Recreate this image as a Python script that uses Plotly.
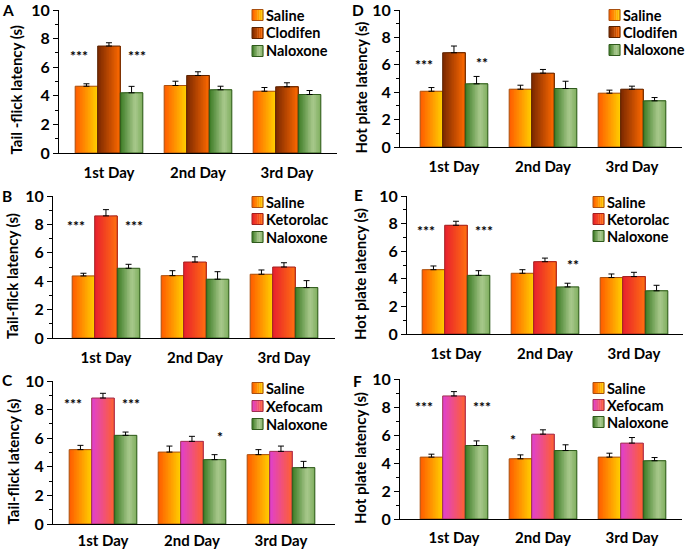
import plotly.graph_objects as go

# ---------------- data ----------------
days = ["1st Day", "2nd Day", "3rd Day"]
day_index = [0, 1, 2]

series_names_A = ["Saline", "Clodifen", "Naloxone"]
series_names_B = ["Saline", "Ketorolac", "Naloxone"]
series_names_C = ["Saline", "Xefocam", "Naloxone"]

# Tail-flick, Clodifen (A)
a_saline = [4.67, 4.72, 4.32]
a_saline_err = [0.17, 0.30, 0.26]
a_drug = [7.48, 5.42, 4.63]
a_drug_err = [0.23, 0.26, 0.28]
a_naloxone = [4.21, 4.42, 4.09]
a_naloxone_err = [0.45, 0.25, 0.28]

# Hot plate, Clodifen (D)
d_saline = [4.07, 4.22, 3.93]
d_saline_err = [0.27, 0.29, 0.22]
d_drug = [6.88, 5.39, 4.22]
d_drug_err = [0.49, 0.27, 0.22]
d_naloxone = [4.61, 4.27, 3.37]
d_naloxone_err = [0.54, 0.53, 0.24]

# Tail-flick, Ketorolac (B)
b_saline = [4.37, 4.39, 4.49]
b_saline_err = [0.19, 0.35, 0.30]
b_drug = [8.60, 5.35, 5.00]
b_drug_err = [0.44, 0.37, 0.30]
b_naloxone = [4.91, 4.14, 3.55]
b_naloxone_err = [0.28, 0.53, 0.49]

# Hot plate, Ketorolac (E)
e_saline = [4.66, 4.40, 4.09]
e_saline_err = [0.27, 0.26, 0.26]
e_drug = [7.88, 5.24, 4.16]
e_drug_err = [0.29, 0.26, 0.31]
e_naloxone = [4.25, 3.41, 3.13]
e_naloxone_err = [0.34, 0.27, 0.40]

# Tail-flick, Xefocam (C)
c_saline = [5.20, 5.03, 4.85]
c_saline_err = [0.30, 0.42, 0.35]
c_drug = [8.81, 5.78, 5.08]
c_drug_err = [0.33, 0.35, 0.37]
c_naloxone = [6.20, 4.50, 3.94]
c_naloxone_err = [0.23, 0.35, 0.44]

# Hot plate, Xefocam (F)
f_saline = [4.42, 4.30, 4.42]
f_saline_err = [0.21, 0.28, 0.28]
f_drug = [8.79, 6.06, 5.42]
f_drug_err = [0.31, 0.31, 0.40]
f_naloxone = [5.25, 4.89, 4.16]
f_naloxone_err = [0.33, 0.41, 0.23]

# significance marks: (text, day index, series index, height)
a_marks = [("***", 0, 0, 7.08), ("***", 0, 2, 7.08)]
d_marks = [("***", 0, 0, 6.34), ("**", 0, 2, 6.46)]
b_marks = [("***", 0, 0, 8.18), ("***", 0, 2, 8.18)]
e_marks = [("***", 0, 0, 7.76), ("***", 0, 2, 7.76), ("**", 1, 2, 5.31)]
c_marks = [("***", 0, 0, 8.70), ("***", 0, 2, 8.70), ("*", 1, 2, 6.43)]
f_marks = [("***", 0, 0, 8.34), ("***", 0, 2, 8.34), ("*", 1, 0, 5.96)]

tail_title_A = "Tail -flick latency (s)"
tail_title = "Tail-flick latency (s)"
hot_title = "Hot plate latency (s)"

# ---------------- style ----------------
W, H = 685, 549
FONT = "Lato"
N_SLICES = 14
BW = 0.253
OFFSETS = [-0.38, -0.127, 0.127]
MARK_SHIFT = [-0.08, 0.0, 0.06]

GRAD = {
    "Saline": [(0, "#FF5A00"), (1, "#FFD000")],
    "Clodifen": [(0, "#7A2800"), (1, "#FF6A00")],
    "Ketorolac": [(0, "#E8202E"), (1, "#FF7010")],
    "Xefocam": [(0, "#E040D0"), (1, "#FF6030")],
    "Naloxone": [(0, "#3B7A23"), (0.65, "#A9C98D"), (1, "#7FAE5E")],
}
EDGE = {
    "Saline": "#A85010",
    "Clodifen": "#5A2200",
    "Ketorolac": "#A02020",
    "Xefocam": "#A03050",
    "Naloxone": "#2F5A1C",
}


def hex2rgb(h):
    h = h.lstrip("#")
    return tuple(int(h[i:i + 2], 16) for i in (0, 2, 4))


def grad_color(stops, t):
    for (t0, c0), (t1, c1) in zip(stops[:-1], stops[1:]):
        if t <= t1:
            f = (t - t0) / (t1 - t0) if t1 > t0 else 0
            a, b = hex2rgb(c0), hex2rgb(c1)
            r = [round(a[k] + (b[k] - a[k]) * f) for k in range(3)]
            return "rgb(%d,%d,%d)" % tuple(r)
    return "rgb(%d,%d,%d)" % hex2rgb(stops[-1][1])


# panel pixel geometry (letter_xy = centre x, top y of the panel letter)
panels = [
    dict(letter="A", title=tail_title_A, names=series_names_A,
         vals=[a_saline, a_drug, a_naloxone], errs=[a_saline_err, a_drug_err, a_naloxone_err], marks=a_marks,
         left=59, right=337, c0=109, top=10, bottom=153, xtl=6,
         sq_x=252, rows=(15, 33, 51), letter_xy=(8, 0), title_x=15),
    dict(letter="D", title=hot_title, names=series_names_A,
         vals=[d_saline, d_drug, d_naloxone], errs=[d_saline_err, d_drug_err, d_naloxone_err], marks=d_marks,
         left=400, right=682, c0=454, top=10, bottom=147, xtl=6,
         sq_x=609, rows=(15, 32, 50), letter_xy=(358, 0), title_x=360),
    dict(letter="B", title=tail_title, names=series_names_B,
         vals=[b_saline, b_drug, b_naloxone], errs=[b_saline_err, b_drug_err, b_naloxone_err], marks=b_marks,
         left=53, right=335, c0=106, top=196, bottom=338, xtl=6,
         sq_x=252, rows=(202, 219, 237), letter_xy=(7, 186), title_x=12),
    dict(letter="E", title=hot_title, names=series_names_B,
         vals=[e_saline, e_drug, e_naloxone], errs=[e_saline_err, e_drug_err, e_naloxone_err], marks=e_marks,
         left=407, right=683, c0=456, top=196, bottom=334, xtl=6,
         sq_x=593, rows=(202, 219, 236), letter_xy=(358, 185), title_x=360),
    dict(letter="C", title=tail_title, names=series_names_C,
         vals=[c_saline, c_drug, c_naloxone], errs=[c_saline_err, c_drug_err, c_naloxone_err], marks=c_marks,
         left=53, right=335, c0=103, top=381, bottom=524, xtl=3,
         sq_x=252, rows=(388, 406, 424), letter_xy=(7, 370), title_x=12),
    dict(letter="F", title=hot_title, names=series_names_C,
         vals=[f_saline, f_drug, f_naloxone], errs=[f_saline_err, f_drug_err, f_naloxone_err], marks=f_marks,
         left=400, right=682, c0=454, top=379, bottom=519, xtl=5,
         sq_x=593, rows=(388, 405, 422), letter_xy=(357, 371), title_x=360),
]
SPACING = 89.0
SQ = 11  # legend swatch size, px


def pxx(x):
    return x / W


def pxy(y):
    return 1 - y / H


fig = go.Figure()
layout = dict(
    template="none",
    width=W, height=H, margin=dict(l=0, r=0, t=0, b=0, autoexpand=False),
    paper_bgcolor="white", plot_bgcolor="white",
    barmode="overlay", showlegend=False,
    font=dict(family=FONT, color="black"),
)
annotations = []
shapes = []

for i, p in enumerate(panels, start=1):
    xa = "x" if i == 1 else "x%d" % i
    ya = "y" if i == 1 else "y%d" % i
    xr = [(p["left"] - p["c0"]) / SPACING, (p["right"] - p["c0"]) / SPACING]

    for s, name in enumerate(p["names"]):
        vals, errs = p["vals"][s], p["errs"][s]
        stops = GRAD[name]
        off = OFFSETS[s]
        # gradient slices (each later slice covers the right part of the previous one)
        for k in range(N_SLICES):
            fig.add_trace(go.Bar(
                x=day_index, y=vals, width=BW * (1 - k / N_SLICES), offset=off + BW * k / N_SLICES,
                marker=dict(color=grad_color(stops, (k + 0.5) / N_SLICES), line=dict(width=0)),
                xaxis=xa, yaxis=ya, showlegend=False, hoverinfo="skip"))
        # outline + error bars
        fig.add_trace(go.Bar(
            x=day_index, y=vals, width=BW, offset=off, name=name,
            marker=dict(color="rgba(0,0,0,0)", line=dict(color=EDGE[name], width=1)),
            error_y=dict(type="data", array=errs, arrayminus=[0] * len(errs), symmetric=False,
                         color="black", thickness=1, width=3),
            xaxis=xa, yaxis=ya, showlegend=False, hoverinfo="skip"))

        # legend swatch (gradient) + label
        ry = p["rows"][s]
        x0, y0 = p["sq_x"], ry - SQ / 2
        nsw = 6
        for k in range(nsw):
            shapes.append(dict(
                type="rect", xref="paper", yref="paper",
                x0=pxx(x0 + SQ * k / nsw), x1=pxx(x0 + SQ * (k + 1) / nsw + 0.3),
                y0=pxy(y0 + SQ), y1=pxy(y0),
                fillcolor=grad_color(stops, (k + 0.5) / nsw), line=dict(width=0), layer="above"))
        shapes.append(dict(
            type="rect", xref="paper", yref="paper",
            x0=pxx(x0), x1=pxx(x0 + SQ), y0=pxy(y0 + SQ), y1=pxy(y0),
            fillcolor="rgba(0,0,0,0)", line=dict(color=EDGE[name], width=1), layer="above"))
        annotations.append(dict(
            text=name, x=pxx(x0 + SQ + 2), y=pxy(ry), xref="paper", yref="paper",
            showarrow=False, xanchor="left", yanchor="middle", borderpad=0,
            font=dict(family=FONT, size=14.5, weight="bold", color="black")))

    xkey = "xaxis" if i == 1 else "xaxis%d" % i
    ykey = "yaxis" if i == 1 else "yaxis%d" % i
    layout[xkey] = dict(
        domain=[pxx(p["left"]), pxx(p["right"])], range=xr, anchor=ya, automargin=False,
        tickvals=day_index, ticktext=days, showline=True, linecolor="black", linewidth=1,
        ticks="outside", ticklen=p["xtl"], tickcolor="rgba(0,0,0,0)", ticklabeloverflow="allow",
        tickfont=dict(family=FONT, size=15, weight="bold", color="black"),
        showgrid=False, zeroline=False, fixedrange=True)
    layout[ykey] = dict(
        domain=[pxy(p["bottom"]), pxy(p["top"])], range=[0, 10], anchor=xa, automargin=False,
        tick0=0, dtick=2, ticks="outside", ticklen=5, tickwidth=1, tickcolor="black",
        minor=dict(dtick=1, ticks="outside", ticklen=3, tickcolor="black", tickwidth=1),
        showline=True, linecolor="black", linewidth=1, ticklabeloverflow="allow",
        tickfont=dict(family=FONT, size=16, weight="bold", color="black"),
        showgrid=False, zeroline=False, fixedrange=True)

    # panel letter
    lxp, lyp = p["letter_xy"]
    annotations.append(dict(
        text=p["letter"], x=pxx(lxp), y=pxy(lyp), xref="paper", yref="paper",
        showarrow=False, borderpad=0,
        font=dict(family=FONT, size=15.5, weight="bold", color="black"),
        xanchor="center", yanchor="top"))
    # y title
    annotations.append(dict(
        text=p["title"], x=pxx(p["title_x"]), y=pxy((p["top"] + p["bottom"]) / 2 + 9),
        xref="paper", yref="paper", textangle=-90, showarrow=False,
        font=dict(family=FONT, size=15, weight="bold", color="black"),
        xanchor="center", yanchor="middle"))
    # significance marks
    for txt, d, s, h in p["marks"]:
        annotations.append(dict(
            text=txt, x=day_index[d] + OFFSETS[s] + BW / 2 + MARK_SHIFT[s], y=h,
            xref=xa, yref=ya, showarrow=False, yshift=-4,
            font=dict(family=FONT, size=14, weight="bold", color="#000000"),
            xanchor="center", yanchor="middle"))

layout["annotations"] = annotations
layout["shapes"] = shapes
fig.update_layout(**layout)
fig.write_html(
    "out.html",
    config={"displayModeBar": False, "staticPlot": True},
    post_script="document.body.style.margin='0';document.body.style.padding='0';",
)
